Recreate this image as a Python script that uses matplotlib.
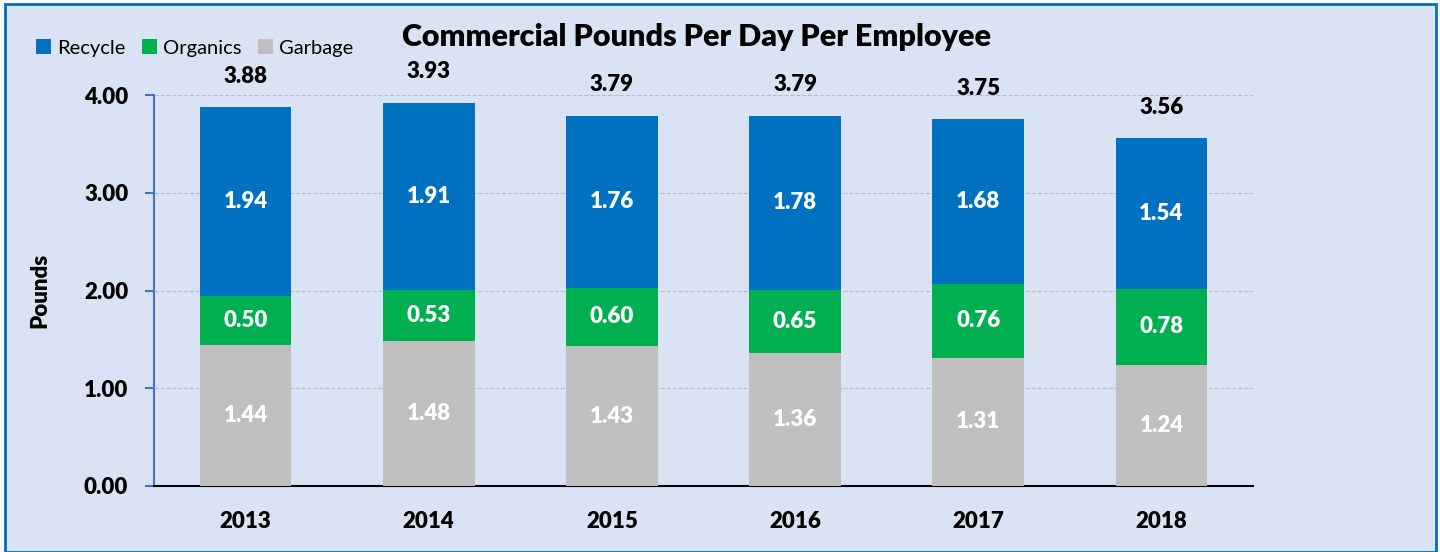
import matplotlib
matplotlib.use("Agg")
import matplotlib.pyplot as plt
from matplotlib.patches import Rectangle
import numpy as np

years = ["2013", "2014", "2015", "2016", "2017", "2018"]
garbage = [1.44, 1.48, 1.43, 1.36, 1.31, 1.24]
organics = [0.50, 0.53, 0.60, 0.65, 0.76, 0.78]
recycle = [1.94, 1.91, 1.76, 1.78, 1.68, 1.54]
totals = [3.88, 3.93, 3.79, 3.79, 3.75, 3.56]

BG = "#dae3f3"
C_REC = "#0070c0"
C_ORG = "#00b050"
C_GAR = "#bfbfbf"
WT = "heavy"

plt.rcParams["font.family"] = ["Lato", "DejaVu Sans"]

fig = plt.figure(figsize=(14.4, 5.52), dpi=100)
fig.patch.set_facecolor("white")
fig.patches.append(Rectangle((5 / 1440, 0), 1431 / 1440, 548 / 552, transform=fig.transFigure,
                             facecolor=BG, edgecolor=C_REC, linewidth=2, zorder=-5))

ax = fig.add_axes([154 / 1440, 66 / 552, 1099 / 1440, 391 / 552])
ax.set_facecolor("none")

x = np.arange(len(years))
w = 0.5
b1 = ax.bar(x, garbage, w, color=C_GAR, label="Garbage", zorder=3)
bottom2 = np.array(garbage)
b2 = ax.bar(x, organics, w, bottom=bottom2, color=C_ORG, label="Organics", zorder=3)
bottom3 = bottom2 + np.array(organics)
b3 = ax.bar(x, recycle, w, bottom=bottom3, color=C_REC, label="Recycle", zorder=3)

for i in range(len(years)):
    ax.text(x[i], garbage[i] / 2, f"{garbage[i]:.2f}", ha="center", va="center",
            color="white", fontsize=16, fontweight=WT, zorder=4)
    ax.text(x[i], bottom2[i] + organics[i] / 2, f"{organics[i]:.2f}", ha="center", va="center",
            color="white", fontsize=16, fontweight=WT, zorder=4)
    ax.text(x[i], bottom3[i] + recycle[i] / 2, f"{recycle[i]:.2f}", ha="center", va="center",
            color="white", fontsize=16, fontweight=WT, zorder=4)
    ax.annotate(f"{totals[i]:.2f}", (x[i], totals[i]), xytext=(0, 22), textcoords="offset points",
                ha="center", va="center", fontsize=16, fontweight=WT, color="black",
                annotation_clip=False)

ax.set_xlim(-0.5, len(years) - 0.5)
ax.set_ylim(0, 4)
ax.set_yticks([0, 1, 2, 3, 4])
ax.set_yticklabels([f"{v:.2f}" for v in [0, 1, 2, 3, 4]], fontsize=16, fontweight=WT)
ax.set_xticks(x)
ax.set_xticklabels(years, fontsize=16, fontweight=WT)
ax.tick_params(axis="x", length=0, pad=18)
ax.tick_params(axis="y", length=6.5, color="#4472c4", width=1.5, pad=12)
ax.grid(axis="y", color="#b4bccb", linestyle="--", linewidth=0.8, zorder=0)
for s in ["top", "right"]:
    ax.spines[s].set_visible(False)
ax.spines["left"].set_color("#4472c4")
ax.spines["left"].set_linewidth(1.5)
ax.spines["bottom"].set_color("black")
ax.spines["bottom"].set_linewidth(1.5)

ax.set_ylabel("Pounds", fontsize=16, fontweight=WT, labelpad=24)

fig.text(696 / 1440, 1 - 37 / 552, "Commercial Pounds Per Day Per Employee", ha="center", va="center",
         fontsize=22, fontweight=WT)

fig.legend([b3, b2, b1], ["Recycle", "Organics", "Garbage"], loc="center left",
           bbox_to_anchor=(18 / 1440, 1 - 48 / 552), ncol=3, frameon=False, fontsize=14.5,
           handlelength=0.75, handleheight=0.75, handletextpad=0.3, columnspacing=0.8)

fig.savefig("out.png", dpi=100, facecolor=fig.get_facecolor())
